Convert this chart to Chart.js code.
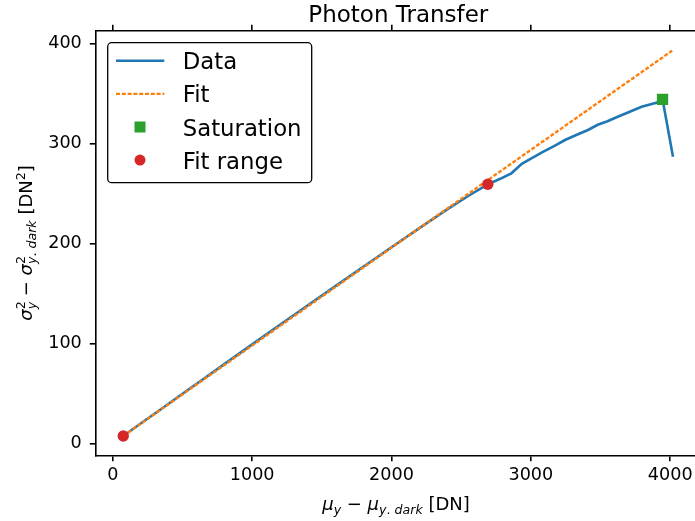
<!DOCTYPE html>
<html>
<head>
<meta charset="utf-8">
<script src="https://cdn.jsdelivr.net/npm/chart.js@4/dist/chart.umd.min.js"></script>
<style>
  html, body { margin: 0; padding: 0; background: #fff; overflow: hidden; }
  #wrap { width: 695px; height: 521px; position: relative; }
</style>
</head>
<body>
<div id="wrap"><canvas id="ptc"></canvas></div>
<script>
// measured data (DN)
const dataX = [75, 200, 350, 500, 650, 800, 1000, 1200, 1400, 1600, 1800, 2000, 2200, 2400, 2550, 2691,
  2780, 2860, 2935, 3010, 3090, 3170, 3245, 3330, 3410, 3480, 3550, 3615, 3710, 3795, 3900, 3945, 4020];
const dataY = [7.3, 19.8, 34.6, 49.5, 64.3, 79.2, 98.9, 118.5, 138, 157.4, 176.8, 196, 215.2, 233.9, 247.3, 259,
  264.5, 270, 279.5, 285.5, 291.6, 297.5, 303.3, 308.5, 313.3, 318.5, 322, 326, 331.6, 336.6, 340.5, 344, 286.6];
const fitX = [75, 4014];
const fitY = [7.3, 392.6];
const satX = [3945];
const satY = [344];
const rangeX = [75, 2691];
const rangeY = [7.3, 259];
const xTicks = [0, 1000, 2000, 3000, 4000];
const yTicks = [0, 100, 200, 300, 400];

const pts = (xs, ys) => xs.map((x, i) => ({ x: x, y: ys[i] }));
const FONT = '"DejaVu Sans", sans-serif';
const C = { blue: '#1f77b4', orange: '#ff7f0e', green: '#2ca02c', red: '#d62728' };

// tiny mathtext: runs of {t, it, s (script size), dy, stay (no advance)}
function runFont(r) { return (r.it ? 'italic ' : '') + (r.s ? 12.6 : 18) + 'px ' + FONT; }
function runWidth(ctx, runs) {
  let w = 0;
  runs.forEach(r => { ctx.font = runFont(r); if (!r.stay) w += ctx.measureText(r.t).width; });
  return w;
}
function drawRuns(ctx, runs, cx, by) {
  let x = cx - runWidth(ctx, runs) / 2;
  ctx.textAlign = 'left';
  ctx.textBaseline = 'alphabetic';
  runs.forEach(r => {
    ctx.font = runFont(r);
    ctx.fillText(r.t, x, by + (r.dy || 0));
    if (!r.stay) x += ctx.measureText(r.t).width;
  });
}

const xLabel = [
  { t: 'μ', it: 1 }, { t: 'y', it: 1, s: 1, dy: 4 },
  { t: ' − ' },
  { t: 'μ', it: 1 }, { t: 'y', it: 1, s: 1, dy: 4 }, { t: '. ', s: 1, dy: 4 }, { t: 'dark', it: 1, s: 1, dy: 4 },
  { t: ' [DN]' }
];
const yLabel = [
  { t: 'σ', it: 1 }, { t: '2', s: 1, dy: -7.5, stay: 1 }, { t: 'y', it: 1, s: 1, dy: 4 },
  { t: ' − ' },
  { t: 'σ', it: 1 }, { t: '2', s: 1, dy: -7.5, stay: 1 }, { t: 'y', it: 1, s: 1, dy: 4 }, { t: '. ', s: 1, dy: 4 }, { t: 'dark', it: 1, s: 1, dy: 4 },
  { t: ' [DN' }, { t: '2', s: 1, dy: -7.5 }, { t: ']' }
];

const textPlugin = {
  id: 'texts',
  afterDraw(chart) {
    const ctx = chart.ctx;
    const a = chart.chartArea;
    const cx = 398.3;
    ctx.save();
    ctx.fillStyle = '#000';
    ctx.font = '23px ' + FONT;
    ctx.textAlign = 'center';
    ctx.textBaseline = 'alphabetic';
    ctx.fillText('Photon Transfer', cx, 21.7);

    drawRuns(ctx, xLabel, 396, 510);

    ctx.save();
    ctx.translate(32, (a.top + a.bottom) / 2);
    ctx.rotate(-Math.PI / 2);
    drawRuns(ctx, yLabel, 0, 0);
    ctx.restore();

    // legend
    const lx = 107.7, ly = 42.7, lw = 204, lh = 140, rad = 4;
    ctx.beginPath();
    ctx.roundRect(lx, ly, lw, lh, rad);
    ctx.fillStyle = 'rgba(255,255,255,0.8)';
    ctx.fill();
    ctx.lineWidth = 1.3;
    ctx.strokeStyle = '#000';
    ctx.stroke();

    const names = ['Data', 'Fit', 'Saturation', 'Fit range'];
    names.forEach((n, i) => {
      const base = 69.3 + i * 33.1;
      const my = base - 8.5;
      ctx.fillStyle = '#000';
      ctx.font = '22.8px ' + FONT;
      ctx.textAlign = 'left';
      ctx.fillText(n, 182.7, base);
      if (i === 0) {
        ctx.beginPath(); ctx.moveTo(116, my); ctx.lineTo(164.3, my);
        ctx.strokeStyle = C.blue; ctx.lineWidth = 2.6; ctx.setLineDash([]); ctx.stroke();
      } else if (i === 1) {
        ctx.beginPath(); ctx.moveTo(116, my); ctx.lineTo(164.3, my);
        ctx.strokeStyle = C.orange; ctx.lineWidth = 2.4; ctx.setLineDash([4, 1.8]); ctx.stroke();
        ctx.setLineDash([]);
      } else if (i === 2) {
        ctx.fillStyle = C.green; ctx.fillRect(140 - 5.5, my - 5.5, 11, 11);
      } else {
        ctx.beginPath(); ctx.arc(140, my, 5.5, 0, Math.PI * 2);
        ctx.fillStyle = C.red; ctx.fill();
      }
    });
    ctx.restore();
  }
};

const axisLine = { color: '#000', width: 1.6 };
const gridOpts = { drawOnChartArea: false, drawTicks: true, tickLength: 6, color: '#000', lineWidth: 1.6 };
const tickFont = { family: FONT, size: 17.6 };
const noPad = s => { s.paddingLeft = 0; s.paddingRight = 0; s.paddingTop = 0; s.paddingBottom = 0; };

new Chart(document.getElementById('ptc'), {
  type: 'line',
  data: {
    datasets: [
      { label: 'Data', data: pts(dataX, dataY), borderColor: C.blue, borderWidth: 2.6,
        pointRadius: 0, tension: 0, order: 4 },
      { label: 'Fit', data: pts(fitX, fitY), borderColor: C.orange, borderWidth: 2.4,
        borderDash: [4, 1.8], pointRadius: 0, order: 3 },
      { label: 'Saturation', data: pts(satX, satY), showLine: false, pointStyle: 'rect',
        pointRadius: 8, backgroundColor: C.green, borderWidth: 0, order: 2 },
      { label: 'Fit range', data: pts(rangeX, rangeY), showLine: false, pointStyle: 'circle',
        pointRadius: 5.7, backgroundColor: C.red, borderWidth: 0, order: 1 }
    ]
  },
  options: {
    responsive: true,
    maintainAspectRatio: false,
    animation: false,
    layout: { padding: 0, autoPadding: false },
    plugins: { legend: { display: false }, title: { display: false }, tooltip: { enabled: false } },
    scales: {
      x: {
        type: 'linear', position: 'bottom', min: -122, max: 4178,
        afterBuildTicks: s => { s.ticks = xTicks.map(v => ({ value: v })); },
        afterFit: s => { s.height = 65.7; noPad(s); },
        grid: gridOpts, border: axisLine,
        ticks: { color: '#000', font: tickFont, padding: 4, maxRotation: 0, callback: v => String(v) }
      },
      x2: {
        type: 'linear', position: 'top', min: -122, max: 4178,
        afterBuildTicks: s => { s.ticks = xTicks.map(v => ({ value: v })); },
        afterFit: s => { s.height = 30.7; noPad(s); },
        grid: gridOpts, border: axisLine,
        ticks: { display: false }
      },
      y: {
        type: 'linear', position: 'left', min: -12, max: 412.6,
        afterBuildTicks: s => { s.ticks = yTicks.map(v => ({ value: v })); },
        afterFit: s => { s.width = 95.8; noPad(s); },
        grid: gridOpts, border: axisLine,
        ticks: { color: '#000', font: tickFont, padding: 8, callback: v => String(v) }
      }
    }
  },
  plugins: [textPlugin]
});
</script>
</body>
</html>
